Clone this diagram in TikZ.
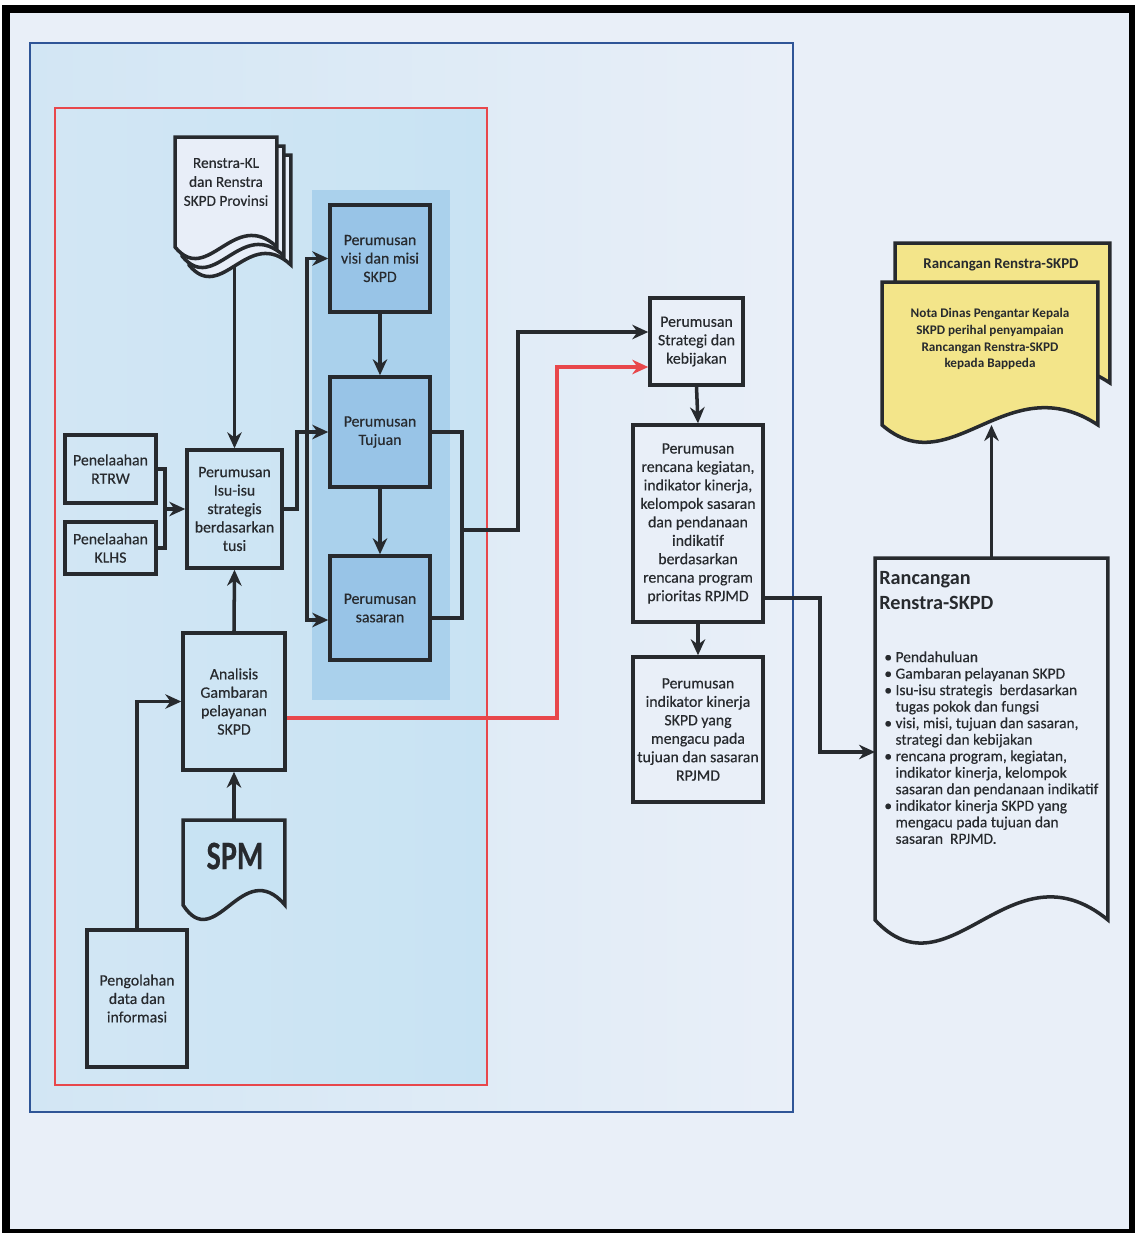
\documentclass[tikz,border=0pt]{standalone}
\usepackage{fontspec}
\setmainfont{Carlito}
\newfontfamily\semib{Carlito}[FakeBold=0.35]
\usetikzlibrary{arrows.meta,calc}
\definecolor{bgc}{HTML}{E9EFF8}
\definecolor{ink}{HTML}{272A2E}
\definecolor{bluefr}{HTML}{2F5597}
\definecolor{redfr}{HTML}{E8474B}
\definecolor{lightb}{HTML}{C8E3F3}
\definecolor{blueL}{HTML}{D2E6F4}
\definecolor{panel}{HTML}{AAD1EC}
\definecolor{boxb}{HTML}{98C4E7}
\definecolor{yel}{HTML}{F3E58A}
\definecolor{docf}{HTML}{E8EEF8}
\newcommand\docpath[3]{%
  \filldraw[docline, fill=#2] (#1.south west) -- (#1.north west) -- (#1.north east) -- (#1.south east)
   .. controls ($(#1.south west)!0.58!(#1.south east)+(0,-#3)$) and ($(#1.south west)!0.32!(#1.south east)+(0,#3)$) .. (#1.south west) -- cycle;}
\begin{document}
\begin{tikzpicture}[x=0.02cm,y=-0.02cm,
  box/.style={draw=ink, line width=2pt, align=center, text=ink, font=\semib\fontsize{9}{10.5}\selectfont, inner sep=2pt},
  arr/.style={draw=ink, line width=2pt, -{Stealth[length=0.32cm,width=0.29cm]}},
  redarr/.style={draw=redfr, line width=2pt, -{Stealth[length=0.32cm,width=0.29cm]}},
  wire/.style={draw=ink, line width=2pt},
  docline/.style={draw=ink, line width=2pt},
  ghost/.style={inner sep=0pt, outer sep=0pt},
  txt/.style={align=center, text=ink, inner sep=0pt, font=\semib\fontsize{9}{10.5}\selectfont}]
% canvas and frames
\path[use as bounding box, fill=white] (0,0) rectangle (1136,1235);
\fill[black] (2,5) rectangle (1135,1233);
\fill[bgc] (10,13) rectangle (1129,1229);
\shade[left color=blueL, right color=bgc] (30,43) rectangle (793,1112);
\draw[bluefr, line width=1.5pt] (30,43) rectangle (793,1112);
\shade[left color=blueL, right color=lightb] (55,108) rectangle (487,1085);
\draw[redfr, line width=1.5pt] (55,108) rectangle (487,1085);
\fill[panel] (312,190) rectangle (450,700);

% Renstra-KL document stack
\node[ghost, minimum width=2.04cm, minimum height=2.2cm] (renstraC) at (240,210) {};
\node[ghost, minimum width=2.04cm, minimum height=2.2cm] (renstraB) at (233,201) {};
\node[ghost, minimum width=2.04cm, minimum height=2.2cm] (renstra) at (226,192) {};
\docpath{renstraC}{docf}{40}
\docpath{renstraB}{docf}{40}
\docpath{renstra}{docf}{40}
\node[txt, font=\semib\fontsize{8.7}{10.8}\selectfont] (renstratext) at (226,182) {Renstra-KL\\dan Renstra\\SKPD Provinsi};

% left boxes
\node[box, minimum width=1.82cm, minimum height=1.36cm] (rtrw) at (110.5,469) {Penelaahan\\RTRW};
\node[box, minimum width=1.82cm, minimum height=1.04cm] (klhs) at (110.5,548) {Penelaahan\\KLHS};
\node[box, minimum width=1.9cm, minimum height=2.36cm] (isu) at (234.5,509) {Perumusan\\Isu-isu\\strategis\\berdasarkan\\tusi};
\node[box, minimum width=2.04cm, minimum height=2.74cm] (analisis) at (234,701.5) {Analisis\\Gambaran\\pelayanan\\SKPD};
\node[box, minimum width=2cm, minimum height=2.74cm] (pengolahan) at (137,998.5) {Pengolahan\\data dan\\informasi};

% SPM document
\node[ghost, minimum width=2.04cm, minimum height=1.7cm] (spm) at (234,862.5) {};
\docpath{spm}{lightb}{50}
\node[txt] (spmtext) at (235,856) {\scalebox{0.75}[1]{\fontsize{23}{23}\selectfont\bfseries SPM}};

% Perumusan column
\node[box, fill=boxb, minimum width=2cm, minimum height=2.14cm] (visi) at (380,258.5) {Perumusan\\visi dan misi\\SKPD};
\node[box, fill=boxb, minimum width=2cm, minimum height=2.2cm] (tujuan) at (380,432) {Perumusan\\Tujuan};
\node[box, fill=boxb, minimum width=2cm, minimum height=2.08cm] (sasaran) at (380,608) {Perumusan\\sasaran};

% right column
\node[box, fill=bgc, minimum width=1.86cm, minimum height=1.74cm] (strategi) at (696.5,341.5) {Perumusan\\Strategi dan\\kebijakan};
\node[box, fill=bgc, minimum width=2.6cm, minimum height=3.94cm] (rencana) at (698,523.5) {Perumusan\\rencana kegiatan,\\indikator kinerja,\\kelompok sasaran\\dan pendanaan\\indikatif\\berdasarkan\\rencana program\\prioritas RPJMD};
\node[box, fill=bgc, minimum width=2.6cm, minimum height=2.9cm] (indikator) at (698,729.5) {Perumusan\\indikator kinerja\\SKPD yang\\mengacu pada\\tujuan dan sasaran\\RPJMD};

% Rancangan document
\node[ghost, minimum width=4.66cm, minimum height=7.24cm] (rc) at (991.5,739) {};
\docpath{rc}{bgc}{80}
\node[anchor=north west, align=left, text=ink, inner sep=0pt, font=\bfseries\fontsize{11.5}{14}\selectfont] (rchead) at (879,571) {Rancangan\\Renstra-SKPD};
\node[anchor=north west, align=left, text=ink, inner sep=0pt, font=\semib\fontsize{8.8}{9.4}\selectfont] (rclist) at (884,651) {%
\textbullet\ Pendahuluan\\
\textbullet\ Gambaran pelayanan SKPD\\
\textbullet\ Isu-isu strategis\ \ berdasarkan\\
\phantom{\textbullet\ }tugas pokok dan fungsi\\
\textbullet\ visi, misi, tujuan dan sasaran,\\
\phantom{\textbullet\ }strategi dan kebijakan\\
\textbullet\ rencana program, kegiatan,\\
\phantom{\textbullet\ }indikator kinerja, kelompok\\
\phantom{\textbullet\ }sasaran dan pendanaan indikatif\\
\textbullet\ indikator kinerja SKPD yang\\
\phantom{\textbullet\ }mengacu pada tujuan dan\\
\phantom{\textbullet\ }sasaran\ \ RPJMD.};

% Nota documents
\node[ghost, minimum width=4.3cm, minimum height=2.8cm] (notaback) at (1002.5,313) {};
\docpath{notaback}{yel}{60}
\node[txt, font=\bfseries\fontsize{8.5}{10}\selectfont] (notabacktext) at (1001,265) {Rancangan Renstra-SKPD};
\node[ghost, minimum width=4.32cm, minimum height=2.86cm] (nota) at (990,353.5) {};
\docpath{nota}{yel}{60}
\node[txt, font=\bfseries\fontsize{7.5}{9.6}\selectfont] (notatext) at (990,339) {Nota Dinas Pengantar Kepala\\SKPD perihal penyampaian\\Rancangan Renstra-SKPD\\kepada Bappeda};

% connectors
\draw[arr] (isu.north |- renstraC.south) -- (isu.north);
\draw[wire] (rtrw.east) -- ++(7,0) |- (klhs.east);
\coordinate (jk) at (163,509);
\draw[arr] (jk) -- (isu.west);
\draw[arr] (analisis.north) -- (isu.south);
\draw[arr] (spm.north -| analisis.south) -- (analisis.south);
\draw[arr] (pengolahan.north) |- (analisis.west);
\draw[arr] (isu.east) -- ++(13,0) |- (tujuan.west);
\coordinate (c1) at (307,432);
\draw[arr] (c1) |- (visi.west);
\draw[arr] (c1) |- ([yshift=-0.24cm]sasaran.west);
\draw[arr] (visi.south) -- (tujuan.north);
\draw[arr] (tujuan.south) -- (sasaran.north);
\draw[wire] (tujuan.east) -- ++(30,0) |- ([yshift=-0.2cm]sasaran.east);
\coordinate (mj) at (460,530);
\draw[arr] (mj) -- ++(58,0) |- ([yshift=0.19cm]strategi.west);
\draw[redarr] ([yshift=-0.33cm]analisis.east) -- ++(270,0) |- ([yshift=-0.51cm]strategi.west);
\draw[arr] (strategi.south) -- (rencana.north);
\draw[arr] (rencana.south) -- (indikator.north);
\draw[arr] ([yshift=-1.49cm]rencana.east) -- ++(55,0) |- ([yshift=-0.26cm]rc.west);
\draw[arr] (rc.north) -- (rc.north |- nota.south);
\end{tikzpicture}
\end{document}
